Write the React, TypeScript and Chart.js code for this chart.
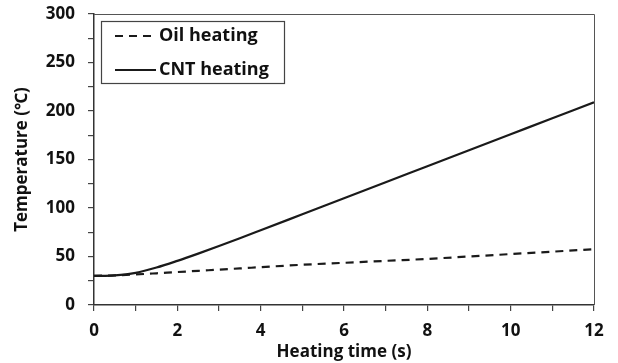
import React, { useEffect, useRef } from "react";
import { Chart, registerables } from "chart.js";

Chart.register(...registerables);

const timeS = [0, 0.5, 1, 1.5, 2, 2.5, 3, 3.5, 4, 5, 6, 7, 8, 9, 10, 11, 12];
const oilHeating = [30, 30.6, 31.5, 32.7, 34, 35.2, 36.5, 37.7, 39, 41.5, 43.5, 45.5, 47.5, 50, 52.5, 55, 57.5];
const cntHeating = [30, 30.6, 33.2, 38.6, 45.5, 53, 60.8, 68.8, 77, 93.5, 110, 126.5, 143, 159.5, 176, 192.5, 209];
const seriesLabels = ["Oil heating", "CNT heating"];
const xTickLabels = [0, 2, 4, 6, 8, 10, 12];
const yTickLabels = [0, 50, 100, 150, 200, 250, 300];

const FONT = "'Open Sans', 'Noto Sans', sans-serif";

const framePlugin = {
  id: "frame",
  afterDraw(chart: any) {
    const { ctx, chartArea } = chart;
    ctx.save();
    ctx.strokeStyle = "#555";
    ctx.lineWidth = 1;
    ctx.beginPath();
    ctx.moveTo(chartArea.left, chartArea.top + 0.5);
    ctx.lineTo(chartArea.right + 0.5, chartArea.top + 0.5);
    ctx.lineTo(chartArea.right + 0.5, chartArea.bottom);
    ctx.stroke();
    ctx.restore();
  },
};

const boxLegendPlugin = {
  id: "boxLegend",
  afterDraw(chart: any) {
    const { ctx, chartArea } = chart;
    const x0 = chartArea.left + 7;
    const y0 = chartArea.top + 7;
    const w = 183;
    const h = 62;
    ctx.save();
    ctx.strokeStyle = "#444";
    ctx.lineWidth = 1.2;
    ctx.strokeRect(x0 + 0.5, y0 + 0.5, w, h);
    chart.data.datasets.forEach((ds: any, i: number) => {
      const cy = y0 + 15 + i * 34;
      ctx.strokeStyle = ds.borderColor;
      ctx.lineWidth = ds.borderWidth;
      ctx.setLineDash(ds.borderDash || []);
      ctx.beginPath();
      ctx.moveTo(x0 + 14, cy);
      ctx.lineTo(x0 + 55, cy);
      ctx.stroke();
      ctx.setLineDash([]);
      ctx.fillStyle = "#111";
      ctx.font = `bold 18px ${FONT}`;
      ctx.textBaseline = "middle";
      ctx.textAlign = "left";
      ctx.fillText(ds.label, x0 + 58, cy);
    });
    ctx.restore();
  },
};

export default function App() {
  const ref = useRef<HTMLCanvasElement | null>(null);

  useEffect(() => {
    document.body.style.margin = "0";
    if (!ref.current) return;
    const chart = new Chart(ref.current, {
      type: "line",
      data: {
        datasets: [
          {
            label: seriesLabels[0],
            data: timeS.map((t, i) => ({ x: t, y: oilHeating[i] })),
            borderColor: "#1a1a1a",
            borderWidth: 2.2,
            borderDash: [8, 6],
            pointRadius: 0,
            cubicInterpolationMode: "monotone",
            fill: false,
          },
          {
            label: seriesLabels[1],
            data: timeS.map((t, i) => ({ x: t, y: cntHeating[i] })),
            borderColor: "#1a1a1a",
            borderWidth: 2.2,
            pointRadius: 0,
            cubicInterpolationMode: "monotone",
            fill: false,
          },
        ],
      },
      options: {
        animation: false,
        responsive: false,
        maintainAspectRatio: false,
        layout: { padding: { top: 14, right: 24, left: 0, bottom: 0 } },
        plugins: {
          legend: { display: false },
          tooltip: { enabled: false },
        },
        scales: {
          x: {
            type: "linear",
            min: 0,
            max: 12,
            afterFit: (s: any) => {
              s.height = 58;
            },
            afterBuildTicks: (s: any) => {
              const t = [];
              for (let v = 0; v <= 12; v += 1) t.push({ value: v });
              s.ticks = t;
            },
            ticks: {
              padding: 10,
              color: "#111",
              font: { family: FONT, size: 17, weight: "bold" },
              maxRotation: 0,
              autoSkip: false,
              callback: (v: any) => (xTickLabels.includes(Number(v)) ? String(v) : ""),
            },
            grid: {
              drawOnChartArea: false,
              drawTicks: true,
              tickLength: 6,
              color: "#444",
              lineWidth: 1.2,
            },
            border: { color: "#333", width: 1.5 },
            title: {
              display: true,
              text: "Heating time (s)",
              color: "#111",
              font: { family: FONT, size: 17, weight: "bold" },
              padding: { top: 0, bottom: 1 },
            },
          },
          y: {
            type: "linear",
            min: 0,
            max: 300,
            afterFit: (s: any) => {
              s.width = 94;
              s.paddingTop = 8;
              s.paddingBottom = 8;
            },
            afterBuildTicks: (s: any) => {
              const t = [];
              for (let v = 0; v <= 300; v += 25) t.push({ value: v });
              s.ticks = t;
            },
            ticks: {
              padding: 13,
              color: "#111",
              font: { family: FONT, size: 17, weight: "bold" },
              autoSkip: false,
              callback: (v: any) => (yTickLabels.includes(Number(v)) ? String(v) : ""),
            },
            grid: {
              drawOnChartArea: false,
              drawTicks: true,
              tickLength: 6,
              color: "#444",
              lineWidth: 1.2,
            },
            border: { color: "#333", width: 1.5 },
            title: {
              display: true,
              text: "Temperature (℃)",
              color: "#111",
              font: { family: FONT, size: 17, weight: "bold" },
              padding: { top: 12, bottom: 0 },
            },
          },
        },
      },
      plugins: [framePlugin, boxLegendPlugin],
    } as any);
    return () => chart.destroy();
  }, []);

  return (
    <div style={{ width: 618, height: 363 }}>
      <canvas ref={ref} width={618} height={363} style={{ display: "block" }} />
    </div>
  );
}
